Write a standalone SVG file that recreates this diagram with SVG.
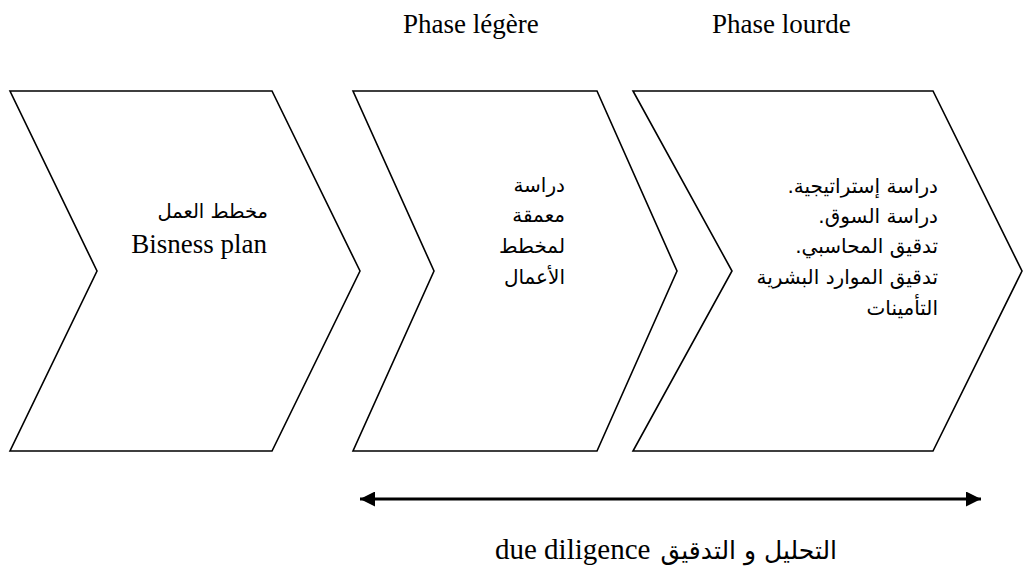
<svg xmlns="http://www.w3.org/2000/svg" width="1023" height="571" viewBox="0 0 1023 571">
<style>
.chev{fill:#fff;stroke:#000;stroke-width:1.6;stroke-linejoin:miter}
.serif{font-family:"Liberation Serif","DejaVu Sans",serif;fill:#000}
.ar{font-family:"DejaVu Sans",sans-serif;fill:#000;font-size:20px}
</style>
<defs>
<marker id="ah" viewBox="0 0 10 10" refX="10" refY="5" markerWidth="5" markerHeight="5" orient="auto-start-reverse" markerUnits="strokeWidth">
<path d="M0,0 L10,5 L0,10 z" fill="#000"/>
</marker>
</defs>
<rect width="1023" height="571" fill="#fff"/>
<g id="label-light"><text class="serif" x="403" y="33" font-size="27">Phase légère</text></g>
<g id="label-heavy"><text class="serif" x="712" y="33" font-size="27">Phase lourde</text></g>
<g id="node1">
<polygon class="chev" points="10,91 272,91 360,271 272,451 10,451 97,271"/>
<text class="ar" x="268" y="218" style="font-size:19.5px" direction="rtl" text-anchor="start">مخطط العمل</text>
<text class="serif" x="267" y="253" font-size="27" text-anchor="end">Bisness plan</text>
</g>
<g id="node2">
<polygon class="chev" points="353,91 597,91 677,271 597,451 353,451 434,271"/>
<text class="ar" x="565" y="192" direction="rtl" text-anchor="start">دراسة</text>
<text class="ar" x="565" y="222" direction="rtl" text-anchor="start">معمقة</text>
<text class="ar" x="565" y="253" direction="rtl" text-anchor="start">لمخطط</text>
<text class="ar" x="565" y="284" direction="rtl" text-anchor="start">الأعمال</text>
</g>
<g id="node3">
<polygon class="chev" points="633,91 933,91 1022,271 933,451 633,451 732,271"/>
<text class="ar" x="938" y="193" direction="rtl" text-anchor="start">دراسة إستراتيجية.</text>
<text class="ar" x="938" y="223" direction="rtl" text-anchor="start">دراسة السوق.</text>
<text class="ar" x="938" y="253" direction="rtl" text-anchor="start">تدقيق المحاسبي.</text>
<text class="ar" x="938" y="284" direction="rtl" text-anchor="start">تدقيق الموارد البشرية</text>
<text class="ar" x="938" y="315" direction="rtl" text-anchor="start">التأمينات</text>
</g>
<g id="connectors">
<line x1="360" y1="499" x2="981" y2="499" stroke="#000" stroke-width="3" marker-start="url(#ah)" marker-end="url(#ah)"/>
</g>
<g id="label-bottom">
<text class="serif" x="495" y="559" font-size="29">due diligence</text>
<text class="ar" x="837" y="559" style="font-size:25px" direction="rtl" text-anchor="start">التحليل و التدقيق</text>
</g>
</svg>
